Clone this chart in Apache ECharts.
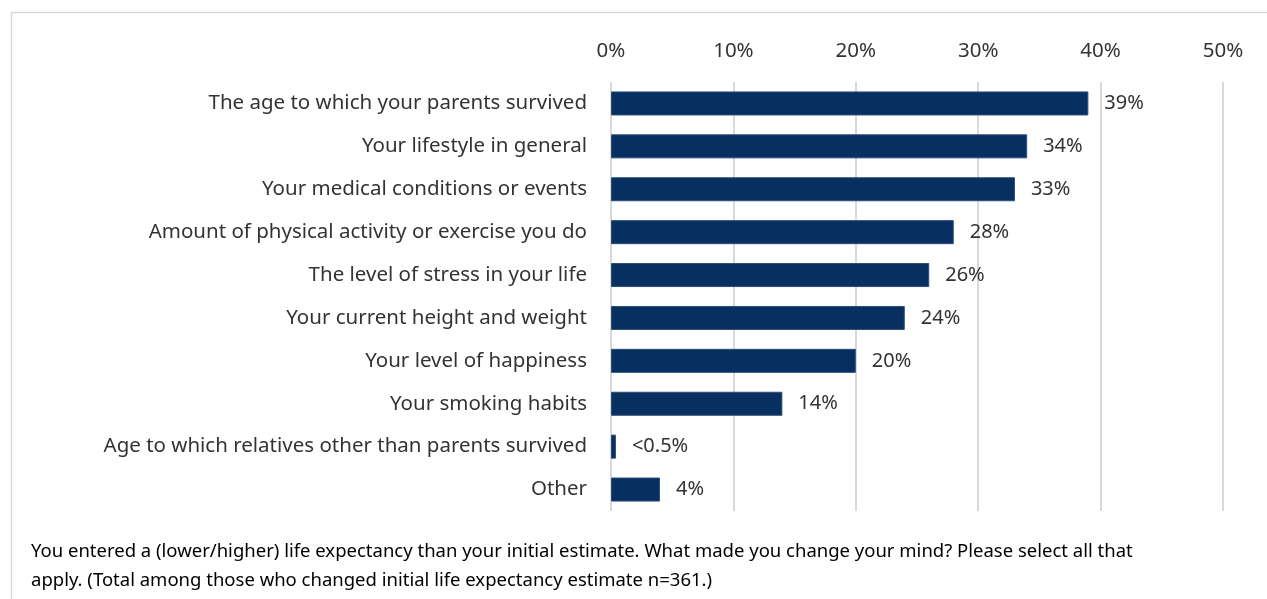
<!DOCTYPE html>
<html><head><meta charset="utf-8">
<script src="https://cdn.jsdelivr.net/npm/echarts@6/dist/echarts.min.js"></script>
<style>html,body{margin:0;padding:0;background:#fff}#c{width:1267px;height:599px}</style>
</head><body><div id="c"></div>
<script>
const categories = [
  "The age to which your parents survived",
  "Your lifestyle in general",
  "Your medical conditions or events",
  "Amount of physical activity or exercise you do",
  "The level of stress in your life",
  "Your current height and weight",
  "Your level of happiness",
  "Your smoking habits",
  "Age to which relatives other than parents survived",
  "Other"
];
const values = [39, 34, 33, 28, 26, 24, 20, 14, 0.4, 4];
const valueLabels = ["39%", "34%", "33%", "28%", "26%", "24%", "20%", "14%", "<0.5%", "4%"];
const tickValues = [0, 10, 20, 30, 40, 50];
const footnote = "You entered a (lower/higher) life expectancy than your initial estimate. What made you change your mind? Please select all that\napply. (Total among those who changed initial life expectancy estimate n=361.)";

const font = "'Noto Sans', 'Open Sans', sans-serif";
const txt = '#333333';
const chart = echarts.init(document.getElementById('c'));
chart.setOption({
  animation: false,
  backgroundColor: '#ffffff',
  grid: { left: 611, width: 612, top: 82, height: 429, containLabel: false },
  xAxis: {
    type: 'value', position: 'top', min: tickValues[0], max: tickValues[tickValues.length - 1], interval: 10,
    axisLine: { show: false }, axisTick: { show: false },
    axisLabel: { formatter: '{value}%', color: txt, fontSize: 20.5, fontFamily: font, margin: 20 },
    splitLine: { show: true, lineStyle: { color: '#d9d9d9', width: 2 } }
  },
  yAxis: {
    type: 'category', inverse: true, data: categories,
    axisLine: { show: false }, axisTick: { show: false },
    axisLabel: { color: txt, fontSize: 20.5, fontFamily: font, margin: 24 }
  },
  series: [{
    type: 'bar',
    data: values,
    barCategoryGap: '44%',
    itemStyle: { color: '#072f5f', borderColor: '#2a4d7a', borderWidth: 1 },
    label: {
      show: true, position: 'right', distance: 16,
      color: txt, fontSize: 20, fontFamily: font,
      formatter: p => valueLabels[p.dataIndex]
    }
  }],
  graphic: [
    { type: 'line', shape: { x1: 11, y1: 12.5, x2: 1267, y2: 12.5 }, style: { stroke: '#d9d9d9', lineWidth: 1.5 } },
    { type: 'line', shape: { x1: 11.5, y1: 12, x2: 11.5, y2: 599 }, style: { stroke: '#d9d9d9', lineWidth: 1.5 } },
    { type: 'text', left: 31, top: 537, style: { text: footnote, fill: '#000000', fontSize: 18.5, fontFamily: font, lineHeight: 29 } }
  ]
});
</script></body></html>
